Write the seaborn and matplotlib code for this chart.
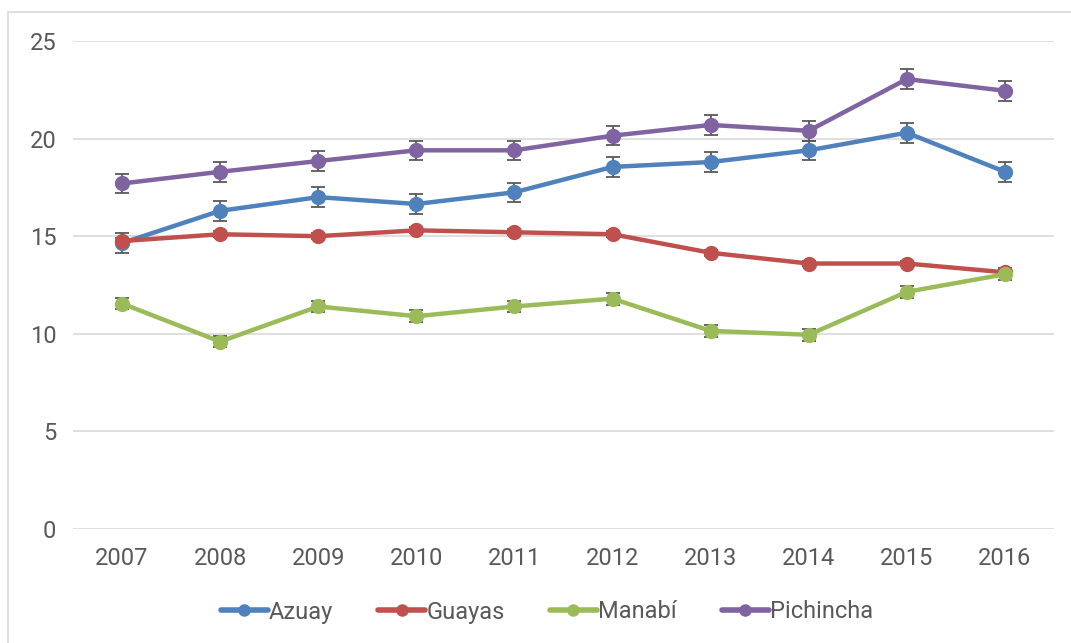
import pandas as pd
import matplotlib.pyplot as plt
import seaborn as sns
from matplotlib.patches import Rectangle

years = [2007, 2008, 2009, 2010, 2011, 2012, 2013, 2014, 2015, 2016]
azuay = [14.65, 16.3, 17.0, 16.65, 17.25, 18.55, 18.8, 19.4, 20.3, 18.3]
guayas = [14.75, 15.1, 15.0, 15.3, 15.2, 15.1, 14.15, 13.6, 13.6, 13.15]
manabi = [11.55, 9.6, 11.4, 10.9, 11.4, 11.8, 10.15, 9.95, 12.15, 13.05]
pichincha = [17.7, 18.3, 18.85, 19.4, 19.4, 20.15, 20.7, 20.4, 23.05, 22.45]
err_azuay = [0.5] * 10
err_guayas = [0.15] * 10
err_manabi = [0.3] * 10
err_pichincha = [0.5] * 10

names = ["Azuay", "Guayas", "Manabí", "Pichincha"]
series = [azuay, guayas, manabi, pichincha]
errors = [err_azuay, err_guayas, err_manabi, err_pichincha]
colors = ["#4F81BD", "#C0504D", "#9BBB59", "#8064A2"]

rows = []
for name, vals, errs in zip(names, series, errors):
    for i, (y, v, e) in enumerate(zip(years, vals, errs)):
        rows.append({"pos": i, "year": str(y), "region": name, "value": v, "err": e})
df = pd.DataFrame(rows)

sns.set_theme(style="white")
plt.rcParams["font.family"] = ["Roboto", "DejaVu Sans"]

fig = plt.figure(figsize=(10.71, 6.43), dpi=100)
ax = fig.add_axes([73 / 1071, 1 - 529 / 643, (1054 - 73) / 1071, (529 - 41) / 643])

fig.patches.append(Rectangle((8 / 1071, -0.01), 1.2, 1 - 12 / 643 + 0.01,
                             transform=fig.transFigure, fill=False,
                             edgecolor="#D9D9D9", linewidth=1.2))

# error bars first so the markers sit on top
for name, color in zip(names, colors):
    sub = df[df["region"] == name]
    ax.errorbar(sub["pos"], sub["value"], yerr=sub["err"], fmt="none",
                ecolor="#595959", elinewidth=1.3, capsize=5, capthick=1.3, zorder=2)

sns.lineplot(data=df, x="pos", y="value", hue="region", palette=colors,
             marker="o", markersize=11, markeredgewidth=0, linewidth=3.2,
             ax=ax, zorder=3)

ax.set_xlim(-0.5, len(years) - 0.5)
ax.set_ylim(0, 25)
ax.set_yticks([0, 5, 10, 15, 20, 25])
ax.set_xticks(range(len(years)))
ax.set_xticklabels([str(y) for y in years])
ax.grid(axis="y", color="#D9D9D9", linewidth=1.2)
ax.set_axisbelow(True)
for s in ax.spines.values():
    s.set_visible(False)
ax.tick_params(axis="both", length=0, labelsize=17, labelcolor="#595959")
ax.tick_params(axis="x", pad=13)
ax.tick_params(axis="y", pad=12)
ax.set_xlabel("")
ax.set_ylabel("")

handles, labels = ax.get_legend_handles_labels()
for h in handles:
    h.set_markersize(9)
    h.set_linewidth(4)
ax.legend(handles, labels, loc="center", bbox_to_anchor=(0.483, (529 - 612) / 488),
          ncol=4, frameon=False, fontsize=17, labelcolor="#595959",
          handlelength=2.0, handletextpad=0.05, columnspacing=1.9)

fig.savefig("out.png", dpi=100)
